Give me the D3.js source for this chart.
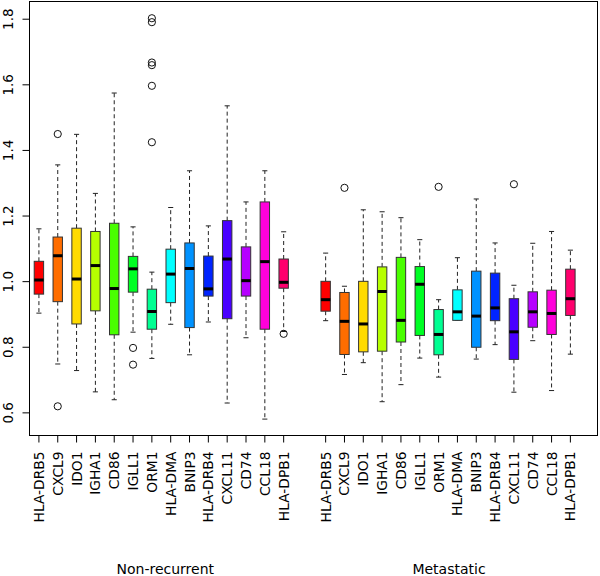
<!DOCTYPE html>
<html><head><meta charset="utf-8">
<script src="https://cdn.jsdelivr.net/npm/d3@7"></script>
<style>body{margin:0;background:#fff}svg{display:block}text{font-family:"DejaVu Sans",sans-serif}</style>
</head><body>
<svg id="c" width="600" height="576"></svg>
<script>
const genes = ["HLA-DRB5","CXCL9","IDO1","IGHA1","CD86","IGLL1","ORM1","HLA-DMA","BNIP3","HLA-DRB4","CXCL11","CD74","CCL18","HLA-DPB1"];
const groups = ["Non-recurrent","Metastatic"];
const colors = ["#FF0000","#FF6D00","#FFDB00","#B6FF00","#49FF00","#00FF24","#00FF92","#00FFFF","#0092FF","#0024FF","#4900FF","#B600FF","#FF00DB","#FF006D"];
const yTicks = [0.6,0.8,1.0,1.2,1.4,1.6,1.8];

// Non-recurrent
const nrLow  = [0.904,0.749,0.729,0.664,0.640,0.846,0.766,0.870,0.777,0.877,0.630,0.829,0.581,0.848];
const nrQ1   = [0.962,0.939,0.871,0.911,0.838,0.968,0.855,0.936,0.860,0.956,0.887,0.956,0.855,0.980];
const nrMed  = [1.005,1.079,1.008,1.049,0.979,1.039,0.909,1.023,1.040,0.978,1.069,1.003,1.061,0.998];
const nrQ3   = [1.062,1.136,1.163,1.153,1.178,1.077,0.977,1.099,1.118,1.078,1.186,1.106,1.243,1.069];
const nrHigh = [1.161,1.356,1.449,1.269,1.575,1.167,1.029,1.226,1.338,1.170,1.536,1.243,1.338,1.152];
const nrOut  = [[],[1.450,0.620],[],[],[],[0.798,0.747],[1.803,1.791,1.668,1.660,1.597,1.425],[],[],[],[],[],[],[0.841]];

// Metastatic
const mLow  = [0.881,0.717,0.753,0.634,0.686,0.767,0.709,0.883,0.764,0.808,0.663,0.820,0.668,0.779];
const mQ1   = [0.910,0.778,0.786,0.788,0.816,0.836,0.777,0.882,0.800,0.881,0.763,0.861,0.839,0.897];
const mMed  = [0.945,0.879,0.871,0.970,0.882,0.992,0.839,0.908,0.895,0.920,0.847,0.908,0.903,0.948];
const mQ3   = [1.001,0.967,1.001,1.045,1.074,1.046,0.915,0.975,1.032,1.026,0.948,0.969,0.974,1.038];
const mHigh = [1.087,0.986,1.219,1.213,1.195,1.128,0.945,1.073,1.252,1.118,0.989,1.117,1.153,1.096];
const mOut  = [[],[1.286],[],[],[],[],[1.289],[],[],[],[1.297],[],[],[]];

const svg = d3.select("#c");
const L = 29.5, R = 597.5, T = 1.5, B = 435.5;
const x = d3.scaleLinear().domain([0.5, 30.67]).range([L, R]);
const y = d3.scaleLinear().domain([0.531, 1.854]).range([B, T]);
const groupStart = [1, 16.23];
const unit = x(2) - x(1);
const bw = unit * 0.5;

const boxes = [];
genes.forEach((g, i) => {
  boxes.push({gene:g, grp:0, pos:groupStart[0]+i, col:colors[i], lo:nrLow[i], q1:nrQ1[i], md:nrMed[i], q3:nrQ3[i], hi:nrHigh[i], out:nrOut[i]});
});
genes.forEach((g, i) => {
  boxes.push({gene:g, grp:1, pos:groupStart[1]+i, col:colors[i], lo:mLow[i], q1:mQ1[i], md:mMed[i], q3:mQ3[i], hi:mHigh[i], out:mOut[i]});
});

const gB = svg.append("g");
boxes.forEach(b => {
  const cx = x(b.pos);
  const g = gB.append("g");
  // whiskers
  g.append("line").attr("x1",cx).attr("x2",cx).attr("y1",y(b.q3)).attr("y2",y(b.hi))
    .attr("stroke","#222").attr("stroke-dasharray","4,3").attr("stroke-width",1);
  g.append("line").attr("x1",cx).attr("x2",cx).attr("y1",y(b.q1)).attr("y2",y(b.lo))
    .attr("stroke","#222").attr("stroke-dasharray","4,3").attr("stroke-width",1);
  // staples
  [b.hi, b.lo].forEach(v => {
    g.append("line").attr("x1",cx-bw*0.27).attr("x2",cx+bw*0.27).attr("y1",y(v)).attr("y2",y(v))
      .attr("stroke","#222").attr("stroke-width",1);
  });
  // box
  g.append("rect").attr("x",cx-bw/2).attr("width",bw).attr("y",y(b.q3)).attr("height",y(b.q1)-y(b.q3))
    .attr("fill",b.col).attr("stroke","#333").attr("stroke-width",1);
  // median
  g.append("line").attr("x1",cx-bw/2).attr("x2",cx+bw/2).attr("y1",y(b.md)).attr("y2",y(b.md))
    .attr("stroke","#000").attr("stroke-width",3);
  // outliers
  b.out.forEach(v => {
    g.append("circle").attr("cx",cx).attr("cy",y(v)).attr("r",3.6)
      .attr("fill","none").attr("stroke","#111").attr("stroke-width",1);
  });
});

// frame
svg.append("rect").attr("x",L).attr("y",T).attr("width",R-L).attr("height",B-T)
  .attr("fill","none").attr("stroke","#000").attr("stroke-width",1);

// y axis
const yAxis = svg.append("g");
yTicks.forEach(t => {
  yAxis.append("line").attr("x1",L-7).attr("x2",L).attr("y1",y(t)).attr("y2",y(t)).attr("stroke","#000");
  yAxis.append("text").attr("transform",`translate(13,${y(t)}) rotate(-90)`)
    .attr("text-anchor","middle").attr("font-size",13.5).attr("fill","#000")
    .text(t.toFixed(1));
});

// x axis
const xAxis = svg.append("g");
boxes.forEach(b => {
  const cx = x(b.pos);
  xAxis.append("line").attr("x1",cx).attr("x2",cx).attr("y1",B).attr("y2",B+7).attr("stroke","#000");
  xAxis.append("text").attr("transform",`translate(${cx+5},${B+16}) rotate(-90)`)
    .attr("text-anchor","end").attr("font-size",13.8).attr("fill","#000").text(b.gene);
});
groups.forEach((gname, gi) => {
  const c = (x(groupStart[gi]) + x(groupStart[gi]+13)) / 2;
  svg.append("text").attr("x", gi===0 ? c+4 : c+1).attr("y",574).attr("text-anchor","middle")
    .attr("font-size",14).attr("fill","#000").text(gname);
});
</script>
</body></html>
